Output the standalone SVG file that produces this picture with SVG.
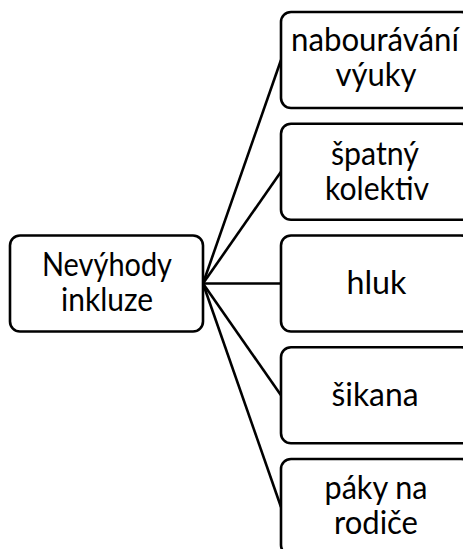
<svg xmlns="http://www.w3.org/2000/svg" width="463" height="549" viewBox="0 0 463 549">
  <style>
    .box { fill: #ffffff; stroke: #000000; stroke-width: 2.6; }
    .link { stroke: #000000; stroke-width: 2.6; fill: none; }
    .label { font-family: Lato, "Open Sans", "Liberation Sans", sans-serif; font-size: 32px; fill: #000000; text-anchor: middle; }
  </style>
  <rect width="463" height="549" fill="#ffffff"/>

  <!-- connectors from the root to each branch -->
  <g id="connectors">
    <line class="link" x1="203" y1="283.5" x2="281" y2="60"/>
    <line class="link" x1="203" y1="283.5" x2="281" y2="171.75"/>
    <line class="link" x1="203" y1="283.5" x2="281" y2="283.5"/>
    <line class="link" x1="203" y1="283.5" x2="281" y2="395.25"/>
    <line class="link" x1="203" y1="283.5" x2="281" y2="507"/>
  </g>

  <g id="root">
    <rect class="box" x="10" y="235.5" width="193" height="96" rx="10"/>
    <text class="label" x="107" y="276" textLength="130" lengthAdjust="spacingAndGlyphs">Nevýhody</text>
    <text class="label" x="107" y="311" textLength="92" lengthAdjust="spacingAndGlyphs">inkluze</text>
  </g>

  <g id="branch-1">
    <rect class="box" x="281" y="12" width="190" height="96" rx="10"/>
    <text class="label" x="375" y="50.5" textLength="168" lengthAdjust="spacingAndGlyphs">nabourávání</text>
    <text class="label" x="376" y="85.5" textLength="81" lengthAdjust="spacingAndGlyphs">výuky</text>
  </g>

  <g id="branch-2">
    <rect class="box" x="281" y="123.75" width="190" height="96" rx="10"/>
    <text class="label" x="375" y="164.5" textLength="88" lengthAdjust="spacingAndGlyphs">špatný</text>
    <text class="label" x="377" y="199.5" textLength="104" lengthAdjust="spacingAndGlyphs">kolektiv</text>
  </g>

  <g id="branch-3">
    <rect class="box" x="281" y="235.5" width="190" height="96" rx="10"/>
    <text class="label" x="376.5" y="294" textLength="60" lengthAdjust="spacingAndGlyphs">hluk</text>
  </g>

  <g id="branch-4">
    <rect class="box" x="281" y="347.25" width="190" height="96" rx="10"/>
    <text class="label" x="375" y="405.75" textLength="87" lengthAdjust="spacingAndGlyphs">šikana</text>
  </g>

  <g id="branch-5">
    <rect class="box" x="281" y="459" width="190" height="96" rx="10"/>
    <text class="label" x="376" y="499" textLength="103" lengthAdjust="spacingAndGlyphs">páky na</text>
    <text class="label" x="376" y="534" textLength="84" lengthAdjust="spacingAndGlyphs">rodiče</text>
  </g>
</svg>
